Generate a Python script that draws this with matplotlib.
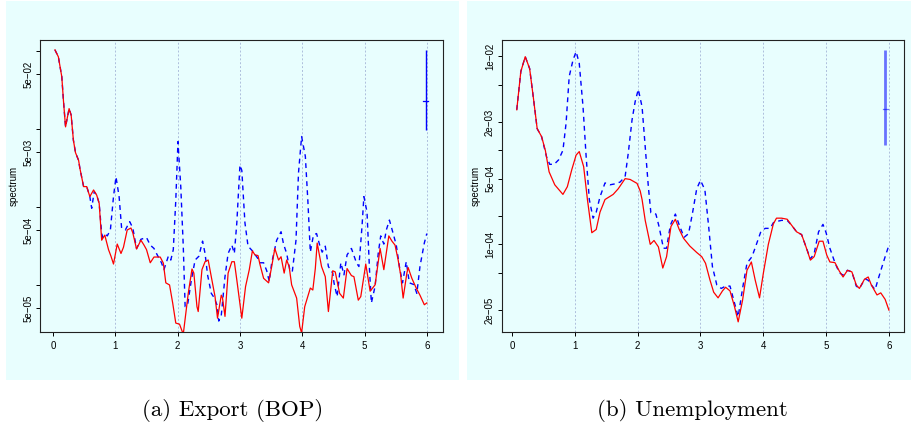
import matplotlib
matplotlib.use('Agg')
import matplotlib.pyplot as plt
from matplotlib.patches import Rectangle

# export (BOP): smoothed spectrum (red) and AR-fitted spectrum (blue dashed)
exp_red_f = [0.03, 0.085, 0.14, 0.166, 0.20, 0.257, 0.29, 0.326, 0.36, 0.41, 0.43, 0.49, 0.54, 0.59, 0.65,
             0.70, 0.74, 0.78, 0.83, 0.89, 0.93, 0.97, 1.03, 1.09, 1.13, 1.19, 1.25, 1.28, 1.34, 1.41, 1.46,
             1.50, 1.56, 1.62, 1.72, 1.77, 1.81, 1.87, 1.92, 1.97, 2.03, 2.09, 2.17, 2.23, 2.26, 2.31, 2.33,
             2.39, 2.44, 2.49, 2.55, 2.60, 2.64, 2.70, 2.72, 2.76, 2.81, 2.87, 2.91, 2.95, 3.03, 3.09, 3.15,
             3.20, 3.24, 3.29, 3.32, 3.38, 3.46, 3.51, 3.56, 3.62, 3.66, 3.71, 3.75, 3.79, 3.83, 3.91, 3.96,
             3.99, 4.04, 4.13, 4.17, 4.21, 4.24, 4.31, 4.37, 4.42, 4.49, 4.53, 4.60, 4.66, 4.72, 4.79, 4.83,
             4.90, 4.94, 5.02, 5.09, 5.17, 5.25, 5.31, 5.39, 5.44, 5.49, 5.54, 5.58, 5.62, 5.68, 5.70, 5.76,
             5.83, 5.89, 5.96, 6.0]
exp_red = [0.102, 0.083, 0.046, 0.023, 0.0105, 0.018, 0.0149, 0.0071, 0.0049, 0.0039, 0.0031, 0.0018,
           0.0018, 0.00134, 0.00163, 0.0014, 0.0011, 3.7e-4, 4.3e-4, 2.8e-4, 2.3e-4, 1.83e-4, 3.3e-4,
           2.5e-4, 3.0e-4, 5.0e-4, 5.3e-4, 4.6e-4, 2.85e-4, 3.7e-4, 3.2e-4, 2.8e-4, 1.9e-4, 2.25e-4,
           2.25e-4, 1.88e-4, 1.05e-4, 9.86e-5, 5.8e-5, 3.2e-5, 3.1e-5, 2.3e-5, 7.7e-5, 1.58e-4, 1.4e-4,
           5.2e-5, 4.5e-5, 1.55e-4, 1.96e-4, 2.06e-4, 1.14e-4, 7.0e-5, 3.7e-5, 7.3e-5, 6.7e-5, 3.9e-5,
           1.4e-4, 1.96e-4, 1.96e-4, 1.14e-4, 3.7e-5, 9.4e-5, 1.55e-4, 2.7e-4, 2.4e-4, 2.35e-4, 1.83e-4,
           1.2e-4, 1.05e-4, 1.7e-4, 2.9e-4, 2.06e-4, 2.27e-4, 1.4e-4, 2.06e-4, 1.7e-4, 9.9e-5, 6.7e-5,
           2.9e-5, 2.4e-5, 5.2e-5, 9.0e-5, 8.5e-5, 1.6e-4, 3.4e-4, 1.7e-4, 1.26e-4, 4.5e-5, 1.5e-4,
           1.45e-4, 7.7e-5, 6.7e-5, 1.6e-4, 1.3e-4, 1.26e-4, 6.3e-5, 7.0e-5, 1.83e-4, 8.2e-5, 9.9e-5,
           2.9e-4, 1.55e-4, 4.2e-4, 3.6e-4, 3.2e-4, 2.06e-4, 1.33e-4, 6.7e-5, 1.4e-4, 1.65e-4, 1.2e-4,
           9.0e-5, 7.3e-5, 5.5e-5, 5.8e-5]

exp_blue_f = [0.03, 0.085, 0.14, 0.166, 0.20, 0.257, 0.29, 0.326, 0.36, 0.41, 0.43, 0.49, 0.54, 0.59, 0.62,
              0.66, 0.70, 0.74, 0.78, 0.80, 0.84, 0.87, 0.92, 0.97, 1.01, 1.06, 1.10, 1.16, 1.23, 1.28, 1.34,
              1.41, 1.50, 1.56, 1.62, 1.66, 1.74, 1.78, 1.85, 1.89, 1.93, 1.97, 2.005, 2.05, 2.09, 2.12, 2.16,
              2.22, 2.28, 2.34, 2.40, 2.44, 2.48, 2.54, 2.59, 2.63, 2.66, 2.70, 2.76, 2.81, 2.87, 2.91, 2.95,
              3.0, 3.03, 3.08, 3.13, 3.20, 3.28, 3.32, 3.38, 3.43, 3.47, 3.51, 3.59, 3.66, 3.70, 3.75, 3.80,
              3.84, 3.90, 3.94, 3.99, 4.05, 4.09, 4.13, 4.18, 4.23, 4.28, 4.32, 4.37, 4.42, 4.49, 4.51, 4.56,
              4.62, 4.67, 4.72, 4.79, 4.87, 4.91, 4.96, 4.99, 5.04, 5.08, 5.11, 5.17, 5.22, 5.26, 5.31, 5.35,
              5.40, 5.46, 5.51, 5.56, 5.61, 5.67, 5.72, 5.79, 5.84, 5.89, 5.96, 6.0]
exp_blue = [0.102, 0.083, 0.046, 0.023, 0.0105, 0.018, 0.0149, 0.0071, 0.0049, 0.0039, 0.0031, 0.0018,
            0.0018, 0.00134, 9.5e-4, 1.55e-3, 1.4e-3, 1.1e-3, 4.5e-4, 4.0e-4, 4.4e-4, 4.2e-4, 5.0e-4,
            1.34e-3, 2.4e-3, 1.34e-3, 5.3e-4, 5.0e-4, 6.4e-4, 5.3e-4, 2.9e-4, 3.8e-4, 4.0e-4, 3.2e-4,
            2.9e-4, 2.5e-4, 1.9e-4, 1.55e-4, 2.3e-4, 2.06e-4, 2.8e-4, 1.2e-3, 6.8e-3, 1.8e-3, 3.1e-4,
            5.2e-5, 5.5e-5, 1.14e-4, 2.06e-4, 2.3e-4, 3.6e-4, 2.5e-4, 1.33e-4, 7.7e-5, 6.7e-5, 5.5e-5,
            3.4e-5, 4.0e-5, 1.26e-4, 2.5e-4, 3.2e-4, 2.5e-4, 6.2e-4, 3.4e-3, 2.9e-3, 6.2e-4, 3.1e-4,
            2.7e-4, 2.2e-4, 1.9e-4, 1.9e-4, 1.5e-4, 1.1e-4, 1.9e-4, 3.7e-4, 4.75e-4, 3.3e-4, 2.5e-4,
            1.55e-4, 1.45e-4, 3.7e-4, 2.7e-3, 7.9e-3, 4.4e-3, 1.2e-3, 2.6e-4, 4.3e-4, 4.5e-4, 3.2e-4,
            2.6e-4, 3.1e-4, 1.7e-4, 1.4e-4, 1.05e-4, 7.0e-5, 1.9e-4, 1.33e-4, 2.4e-4, 2.9e-4, 1.9e-4,
            1.7e-4, 5.6e-4, 1.34e-3, 8.5e-4, 1.55e-4, 5.8e-5, 9.5e-5, 2.5e-4, 4.2e-4, 3.3e-4, 5.0e-4,
            6.7e-4, 4.5e-4, 3.2e-4, 1.7e-4, 1.05e-4, 1.96e-4, 1.05e-4, 1.0e-4, 7.7e-5, 1.7e-4, 3.4e-4,
            4.5e-4]

# unemployment
une_red_f = [0.075, 0.14, 0.21, 0.28, 0.34, 0.40, 0.47, 0.53, 0.59, 0.68, 0.81, 0.88, 0.95, 1.02, 1.07,
             1.14, 1.20, 1.27, 1.34, 1.40, 1.48, 1.61, 1.69, 1.80, 1.88, 1.99, 2.04, 2.07, 2.12, 2.20, 2.26,
             2.33, 2.40, 2.46, 2.53, 2.60, 2.66, 2.73, 2.83, 2.94, 3.02, 3.08, 3.15, 3.21, 3.28, 3.35, 3.40,
             3.47, 3.54, 3.60, 3.67, 3.74, 3.81, 3.87, 3.94, 4.00, 4.08, 4.16, 4.21, 4.29, 4.38, 4.45, 4.53,
             4.61, 4.68, 4.75, 4.81, 4.89, 4.95, 5.01, 5.06, 5.14, 5.21, 5.27, 5.34, 5.41, 5.48, 5.53, 5.61,
             5.67, 5.72, 5.81, 5.87, 5.94, 6.00]
une_red = [2.7e-3, 6.9e-3, 9.9e-3, 7.4e-3, 3.6e-3, 1.7e-3, 1.4e-3, 1.0e-3, 5.9e-4, 4.3e-4, 3.4e-4, 4.1e-4,
           6.2e-4, 8.9e-4, 9.7e-4, 6.7e-4, 3.0e-4, 1.33e-4, 1.44e-4, 2.2e-4, 3.0e-4, 3.4e-4, 3.9e-4,
           5.0e-4, 4.9e-4, 4.45e-4, 3.7e-4, 3.0e-4, 1.8e-4, 1.0e-4, 1.1e-4, 9.4e-5, 5.6e-5, 7.4e-5,
           1.55e-4, 1.85e-4, 1.45e-4, 1.16e-4, 9.6e-5, 8.2e-5, 7.4e-5, 6.3e-5, 4.2e-5, 3.1e-5, 2.7e-5,
           3.2e-5, 3.5e-5, 3.2e-5, 2.2e-5, 1.5e-5, 2.55e-5, 5.3e-5, 6.5e-5, 4.2e-5, 2.7e-5, 4.9e-5,
           1.0e-4, 1.65e-4, 1.9e-4, 1.9e-4, 1.85e-4, 1.6e-4, 1.36e-4, 1.27e-4, 9.4e-5, 6.8e-5, 7.4e-5,
           1.08e-4, 1.08e-4, 7.7e-5, 6.5e-5, 6.4e-5, 5.2e-5, 4.5e-5, 5.3e-5, 5.1e-5, 3.7e-5, 3.4e-5,
           4.25e-5, 4.5e-5, 3.7e-5, 2.9e-5, 3.05e-5, 2.6e-5, 2.0e-5]

une_blue_f = [0.075, 0.14, 0.21, 0.28, 0.34, 0.40, 0.47, 0.55, 0.60, 0.67, 0.74, 0.81, 0.86, 0.91, 0.97,
              1.02, 1.07, 1.13, 1.18, 1.23, 1.29, 1.34, 1.40, 1.48, 1.56, 1.64, 1.72, 1.80, 1.85, 1.91, 1.96,
              2.01, 2.07, 2.12, 2.17, 2.21, 2.29, 2.34, 2.41, 2.46, 2.52, 2.60, 2.67, 2.74, 2.81, 2.87, 2.94,
              3.00, 3.07, 3.13, 3.19, 3.26, 3.33, 3.40, 3.47, 3.54, 3.60, 3.67, 3.74, 3.82, 3.89, 3.96, 4.03,
              4.11, 4.16, 4.21, 4.29, 4.38, 4.45, 4.53, 4.61, 4.68, 4.75, 4.81, 4.88, 4.95, 5.00, 5.06, 5.14,
              5.21, 5.27, 5.34, 5.41, 5.48, 5.53, 5.62, 5.67, 5.72, 5.78, 5.83, 5.89, 5.94, 6.00]
une_blue = [2.7e-3, 6.9e-3, 9.9e-3, 7.4e-3, 3.6e-3, 1.7e-3, 1.4e-3, 8.5e-4, 7.1e-4, 7.1e-4, 7.9e-4,
            1.0e-3, 1.94e-3, 6.1e-3, 9.1e-3, 1.12e-2, 8.4e-3, 2.9e-3, 8.5e-4, 3.0e-4, 1.9e-4, 2.2e-4,
            3.2e-4, 4.5e-4, 4.3e-4, 4.4e-4, 4.6e-4, 5.25e-4, 9.3e-4, 2.1e-3, 3.3e-3, 4.45e-3, 2.9e-3,
            1.09e-3, 4.1e-4, 2.17e-4, 2.1e-4, 1.55e-4, 9.1e-5, 9.1e-5, 1.6e-4, 2.1e-4, 1.55e-4, 1.19e-4,
            1.3e-4, 2.1e-4, 3.9e-4, 4.8e-4, 3.8e-4, 1.55e-4, 5.8e-5, 3.7e-5, 3.4e-5, 3.6e-5, 3.6e-5,
            2.4e-5, 1.7e-5, 3.4e-5, 6.3e-5, 7.4e-5, 1.0e-4, 1.36e-4, 1.48e-4, 1.48e-4, 1.7e-4, 1.75e-4,
            1.8e-4, 1.8e-4, 1.6e-4, 1.36e-4, 1.27e-4, 9.4e-5, 7.0e-5, 8.0e-5, 1.36e-4, 1.63e-4, 1.33e-4,
            9.1e-5, 6.4e-5, 5.0e-5, 4.7e-5, 5.3e-5, 5.1e-5, 3.6e-5, 3.4e-5, 4.3e-5, 4.15e-5, 3.7e-5,
            3.3e-5, 4.3e-5, 5.8e-5, 7.4e-5, 9.8e-5]

# confidence bar: (freq, lower, centre, upper)
exp_ci = (5.98, 9.6e-3, 0.0228, 0.102)
une_ci = (5.94, 1.14e-3, 2.75e-3, 0.0117)

exp_ticks = [1e-1, 5e-2, 1e-2, 5e-3, 1e-3, 5e-4, 1e-4, 5e-5]
exp_labels = ['', '5e\u221202', '', '5e\u221203', '', '5e\u221204', '', '5e\u221205']
une_ticks = [1e-2, 5e-3, 2e-3, 1e-3, 5e-4, 2e-4, 1e-4, 5e-5, 2e-5]
une_labels = ['1e\u221202', '', '2e\u221203', '', '5e\u221204', '', '1e\u221204', '', '2e\u221205']

captions = ['(a) Export (BOP)', '(b) Unemployment']

BG = '#e8fefe'
W, H = 912, 425

plt.rcParams['font.family'] = ['Liberation Sans', 'DejaVu Sans']


def draw_panel(ax, fr, red, fb, blue, ci, ticks, labels, xlim, ylim, ci_alpha):
    ax.set_facecolor(BG)
    ax.set_yscale('log')
    for v in range(1, 7):
        ax.axvline(v, color='#aebfdc', lw=0.7, ls=(0, (2, 2)), zorder=1)
    ax.plot(fb, blue, color='#0000ff', lw=1.0, ls=(0, (3.5, 3)), zorder=3)
    ax.plot(fr, red, color='#ff0000', lw=0.9, zorder=4)
    f, lo, mid, hi = ci
    ax.plot([f, f], [lo, hi], color='#0000ff', lw=1.0 if ci_alpha == 1 else 2.0,
            alpha=ci_alpha, solid_capstyle='butt', zorder=5)
    ax.plot([f - 0.04, f + 0.04], [mid, mid], color='#0000ff', lw=0.9, alpha=ci_alpha, zorder=5)
    ax.set_xlim(*xlim)
    ax.set_ylim(*ylim)
    ax.set_xticks(range(0, 7))
    ax.set_yticks(ticks)
    ax.set_yticklabels(labels, rotation=90, va='center')
    ax.minorticks_off()
    ax.tick_params(axis='both', labelsize=7, length=3, width=0.7, color='black')
    ax.tick_params(axis='x', pad=3.5)
    ax.tick_params(axis='y', pad=2)
    ax.set_ylabel('spectrum', fontsize=7, labelpad=3)
    for s in ax.spines.values():
        s.set_linewidth(0.8)
        s.set_color('#222222')


fig = plt.figure(figsize=(W / 100, H / 100), dpi=100)

# light cyan panel backgrounds, kept behind the axes
fig.patches.append(Rectangle((6 / W, 1 - 380 / H), 453 / W, 379 / H, transform=fig.transFigure,
                             facecolor=BG, edgecolor='none', zorder=-10))
fig.patches.append(Rectangle((467 / W, 1 - 380 / H), 445 / W, 379 / H, transform=fig.transFigure,
                             facecolor=BG, edgecolor='none', zorder=-10))

ax1 = fig.add_axes([40 / W, 1 - 332 / H, 403 / W, 292 / H])
ax2 = fig.add_axes([502 / W, 1 - 332 / H, 402 / W, 292 / H])

draw_panel(ax1, exp_red_f, exp_red, exp_blue_f, exp_blue, exp_ci, exp_ticks, exp_labels,
           (-0.21, 6.26), (2.46e-5, 0.1365), 1)
draw_panel(ax2, une_red_f, une_red, une_blue_f, une_blue, une_ci, une_ticks, une_labels,
           (-0.16, 6.24), (1.17e-5, 0.0149), 0.55)

fig.text(233 / W, 1 - 410 / H, captions[0], family='cmr10', fontsize=16.5, ha='center', va='center')
fig.text(692 / W, 1 - 410 / H, captions[1], family='cmr10', fontsize=16.5, ha='center', va='center')

fig.savefig('out.png', dpi=100, facecolor='white')
